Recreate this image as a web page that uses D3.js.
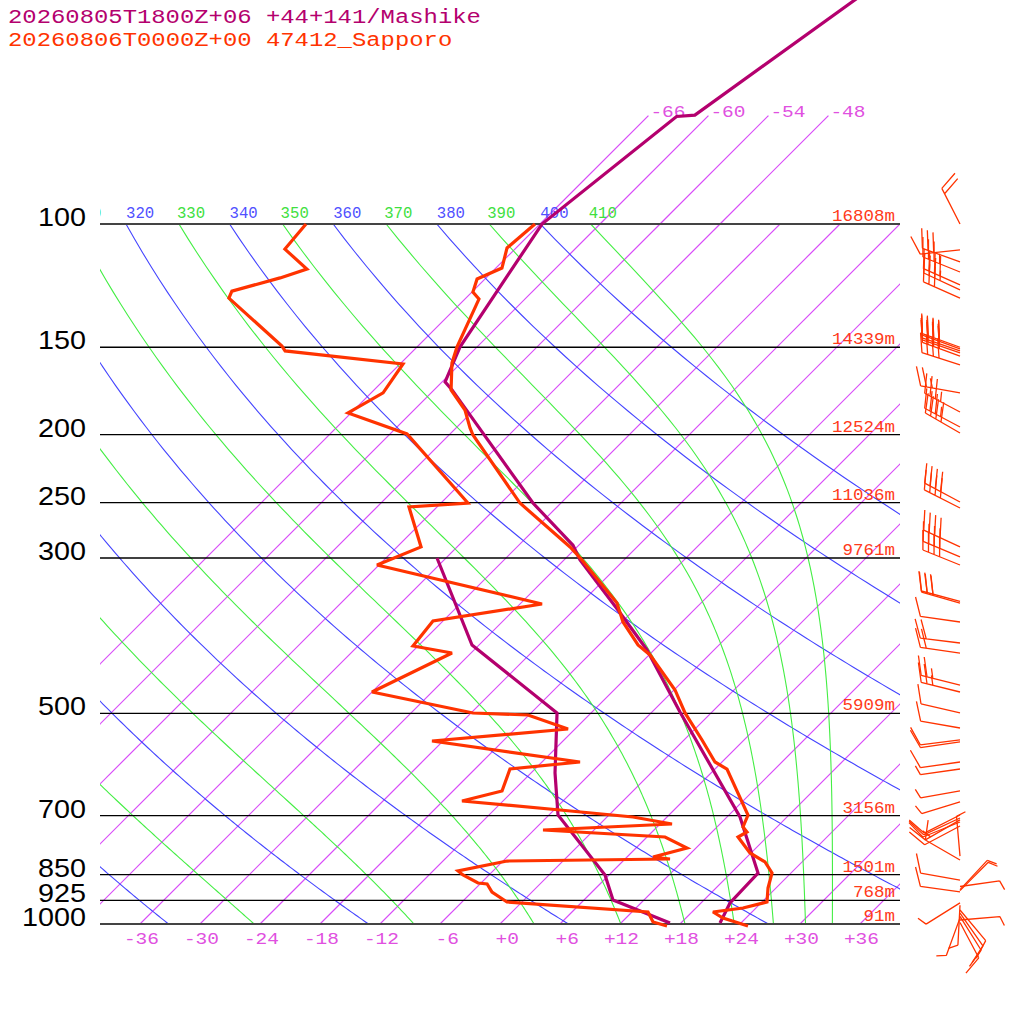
<!DOCTYPE html>
<html><head><meta charset="utf-8">
<script src="https://cdn.jsdelivr.net/npm/d3@7"></script>
<style>html,body{margin:0;padding:0;background:#fff}</style>
</head><body>
<svg id="chart" width="1024" height="1024"></svg>
<script>
// ---------------- data ----------------
const headerLines = ["20260805T1800Z+06 +44+141/Mashike", "20260806T0000Z+00 47412_Sapporo"];
const pressureLevels = [100,150,200,250,300,500,700,850,925,1000];
const heightLabels = ["16808m","14339m","12524m","11036m","9761m","5909m","3156m","1501m","768m","91m"];
const tempTicks = [-36,-30,-24,-18,-12,-6,0,6,12,18,24,30,36];
const isotherms = [-66,-60,-54,-48,-42,-36,-30,-24,-18,-12,-6,0,6,12,18,24,30,36];
const topIsotherms = [-66,-60,-54,-48];
const dryThetas = [240,260,280,300,320,340,360,380,400];
const moistThetas = [250,270,290,310,330,350,370,390,410];

// Sapporo (observed)
const sapTP = [1006.6,980.5,961.3,948.7,930.2,888.3,845.5,815.5,791.7,751.1,738.9,726.8,698.7,600.6,586.9,545.9,499.5,463.1,412.7,399.4,370.3,347.9,302.0,289.3,250.4,200.2,195.6,184.4,172.6,158.0,149.9,128.0,125.1,119.8,115.6,108.2,100];
const sapT  = [25.0,21.7,20.1,22.7,24.5,23.2,22.1,20.3,17.9,15.1,15.5,14.6,13.9,7.2,5.3,1.8,-2.6,-5.9,-11.9,-14.1,-17.9,-20.4,-28.2,-30.7,-40.1,-51.6,-52.6,-54.9,-58.3,-60.9,-62.0,-64.6,-65.9,-66.8,-65.4,-66.9,-66.5];
const sapTdP = [1006.6,993.4,961.3,930.2,900.1,876.4,873.8,851.1,840.0,812.9,807.5,802.2,778.8,751.1,734.0,719.7,703.3,687.3,667.2,645.6,600.6,586.9,547.7,526.5,502.8,499.5,466.2,410.1,400.7,369.1,349.0,307.0,289.3,253.7,250.4,199.5,186.2,174.3,158.5,151.8,149.4,127.6,124.7,119.4,116.0,108.6,100];
const sapTd  = [16.9,15.1,13.6,-1.5,-4.0,-5.3,-6.3,-8.6,-9.5,-5.6,10.5,8.6,11.1,7.8,-5.1,7.2,2.6,-5.4,-16.1,-13.1,-14.5,-8.2,-25.1,-12.7,-18.1,-23.8,-36.0,-31.9,-36.5,-37.0,-27.8,-48.2,-45.6,-50.8,-45.3,-58.3,-66.3,-64.8,-65.7,-78.8,-79.6,-89.7,-90.1,-86.6,-84.8,-89.0,-89.4];

// Mashike (model)
const mashTP = [996.7,933.2,845.5,703.3,497.9,406.0,356.0,302.0,287.5,250.4,172.6,168.1,149.9,100,70.2,69.9,45];
const mashT  = [21.9,20.9,20.7,13.3,-3.2,-12.7,-19.6,-28.4,-30.6,-38.8,-58.2,-59.7,-61.7,-65.8,-63.1,-61.4,-56.2];
const mashTdP = [996.7,924.1,851.1,698.7,608.5,499.5,399.4,300.0];
const mashTd  = [16.9,8.9,5.6,-5.1,-9.6,-15.4,-30.7,-42.9];

// Sapporo winds (pressure hPa, direction deg, speed kt)
const windP   = [100,108.9,113.3,117.1,122.2,124.2,127.6,150,150.8,151.8,152.8,154.4,159,174.3,185.6,195,198.9,249.5,254.5,289.3,299,307,346,348,370.3,396.8,410.1,455.6,466.2,499.5,524.8,545.9,549.5,586.9,600.6,645.6,669.4,698.7,705.6,710,715,724.4,800,810,865.3,884,893,896,900,933,940,955,965,975,980,987,995];
const windDir = [333,264,290,292,294,295,294,290,290,289,289,290,288,280,298,298,300,298,297,295,293,292,285,286,278,277,278,284,284,283,280,263,262,262,262,260,253,243,245,240,248,242,355,300,280,82,43,45,278,238,183,140,145,148,200,85,152];
const windSpd = [20,10,30,35,40,35,30,40,40,40,40,40,40,25,35,35,40,40,40,40,40,40,30,30,10,20,20,25,25,10,10,10,10,10,5,5,5,10,10,15,10,10,5,10,10,5,5,5,10,5,5,10,10,10,5,5,10];

// ---------------- colors ----------------
const C_MASH = "#b4006e", C_SAP = "#ff3300", C_ISOLINE = "#d84cf8", C_ISOLBL = "#e050e0";
const C_BLUE = "#4444ff", C_GREEN = "#44ee44";

// ---------------- scales ----------------
const svg = d3.select("#chart");
const yScale = d3.scaleLog().domain([1000,100]).range([924,224]);
const xScale = d3.scaleLinear().domain([-40,40]).range([100,900]);
const skewX = (T,p) => xScale(T) + (yScale(1000) - yScale(p));

const defs = svg.append("defs");
defs.append("clipPath").attr("id","plotClip").append("rect").attr("x",100).attr("y",224).attr("width",800).attr("height",700);
defs.append("clipPath").attr("id","lblClip").append("rect").attr("x",100).attr("y",0).attr("width",800).attr("height",1024);

const mono = "'Liberation Mono','DejaVu Sans Mono',monospace";
function monoText(g, str, x, y, size, adv, color, anchorEnd) {
  const w = str.length*adv;
  return g.append("text").attr("x", anchorEnd ? x - w : x).attr("y", y)
    .attr("font-family", mono).attr("font-size", size).style("fill", color)
    .attr("textLength", w).attr("lengthAdjust","spacingAndGlyphs").text(str);
}

const grid = svg.append("g").attr("clip-path","url(#plotClip)");
const lineGen = d3.line().x(d=>d[0]).y(d=>d[1]);

// isotherms (straight lines in skew-T space)
isotherms.forEach(T => {
  const pts = [[skewX(T,1000), yScale(1000)], [skewX(T,100), yScale(100)]];
  grid.append("path").attr("d", lineGen(pts))
    .style("fill","none").style("stroke", C_ISOLINE).style("stroke-width","1.2px");
});
// pressure samples
const pSamples = [];
for (let p=1000; p>=100; p-=5) pSamples.push(p);

// dry adiabats
dryThetas.forEach(th => {
  const pts = pSamples.map(p => [skewX(th*Math.pow(p/1000,0.2857)-273.15,p), yScale(p)]);
  grid.append("path").attr("d",lineGen(pts)).style("fill","none").style("stroke",C_BLUE).style("stroke-width","1.1px");
});
// moist (pseudo) adiabats, Bolton theta-e
function thetaE(TK,p){
  const Tc = TK-273.15;
  const e = 6.112*Math.exp(17.67*Tc/(Tc+243.5));
  if (e >= 0.8*p) return Infinity;
  const r = 622*e/(p-e);
  return TK*Math.pow(1000/p,0.2854*(1-0.00028*r))*Math.exp((3.376/TK-0.00254)*r*(1+0.00081*r));
}
function moistT(te,p){
  let lo=120, hi=340;
  for (let i=0;i<60;i++){ const m=(lo+hi)/2; if (thetaE(m,p)>te) hi=m; else lo=m; }
  return (lo+hi)/2-273.15;
}
moistThetas.forEach(te => {
  const pts = pSamples.map(p => [skewX(moistT(te,p),p), yScale(p)]);
  grid.append("path").attr("d",lineGen(pts)).style("fill","none").style("stroke",C_GREEN).style("stroke-width","1.1px");
});

// isotherm extension above 100 hPa
topIsotherms.forEach(T => {
  const pts = [[skewX(T,100), yScale(100)], [skewX(T,70), yScale(70)]];
  svg.append("path").attr("d", lineGen(pts))
    .style("fill","none").style("stroke", C_ISOLINE).style("stroke-width","1.2px");
  monoText(svg, String(T), skewX(T,70)+2, yScale(70)+1, 17, 11.7, C_ISOLBL, false);
});

// pressure lines
pressureLevels.forEach((p,i) => {
  const edge = (p===100||p===1000);
  svg.append("line").attr("x1",100).attr("x2",900).attr("y1",yScale(p)).attr("y2",yScale(p))
    .attr("stroke", edge ? "#444" : "#000").attr("stroke-width", edge ? 1.8 : 1.3);
  const s = String(p);
  svg.append("text").attr("x",86 - s.length*16).attr("y",yScale(p)+2)
    .attr("font-family","'Liberation Sans',Arial,sans-serif").attr("font-size",26).attr("fill","#000")
    .attr("textLength", s.length*16).attr("lengthAdjust","spacingAndGlyphs").text(s);
  monoText(svg, heightLabels[i], 895, yScale(p)-3, 17, 10.5, "#ff3a1a", true);
});

// adiabat labels at 100 hPa (only the characters inside the plot frame are shown)
const lbl = svg.append("g").attr("clip-path","url(#lblClip)");
function thetaLabel(val, x, color){
  const s = String(val), adv = 9.4;
  let k = 0;
  while (k < s.length && x + (k+1)*adv <= 100) k++;
  if (k >= s.length) return;
  monoText(lbl, s.slice(k), x + k*adv, 218, 16, adv, color, false);
}
dryThetas.forEach(th => thetaLabel(th, skewX(th*Math.pow(0.1,0.2857)-273.15,100), "#5050ff"));
moistThetas.forEach(te => thetaLabel(te, skewX(moistT(te,100),100)-2, "#40e040"));

// temperature axis labels
tempTicks.forEach(T => {
  const s = (T>=0?"+":"")+T;
  monoText(svg, s, xScale(T)+19, 944, 17, 11.7, C_ISOLBL, true);
});

// profiles
function profile(P, T, color){
  const pts = P.map((p,i)=>[skewX(T[i],p), yScale(p)]);
  svg.append("path").attr("d",lineGen(pts)).attr("fill","none").attr("stroke",color)
    .attr("stroke-width",3.2).attr("stroke-linejoin","miter").attr("stroke-miterlimit",3);
}
profile(mashTP, mashT, C_MASH);
profile(mashTdP, mashTd, C_MASH);
profile(sapTP, sapT, C_SAP);
profile(sapTdP, sapTd, C_SAP);

// wind barbs
const barbG = svg.append("g").attr("stroke",C_SAP).attr("stroke-width",1.3).attr("fill","none");
function barb(x0,y0,dir,spd){
  const L=40, rad=dir*Math.PI/180;
  const ux=Math.sin(rad), uy=-Math.cos(rad);
  const tx=x0+L*ux, ty=y0+L*uy;
  let d=`M${x0},${y0}L${tx},${ty}`;
  const a=Math.atan2(uy,ux)+68*Math.PI/180;
  const bx=Math.cos(a), by=Math.sin(a);
  let s=Math.round(spd/5)*5, pos=0; const step=6;
  const P=(q)=>[tx-q*ux, ty-q*uy];
  while(s>=50){ const p1=P(pos), p2=P(pos+step);
    d+=`M${p1[0]},${p1[1]}L${p1[0]+20*bx},${p1[1]+20*by}L${p2[0]},${p2[1]}`; pos+=step+2; s-=50; }
  while(s>=10){ const p1=P(pos); d+=`M${p1[0]},${p1[1]}L${p1[0]+20*bx},${p1[1]+20*by}`; pos+=step; s-=10; }
  if(s>=5){ const p1=P(pos); d+=`M${p1[0]},${p1[1]}L${p1[0]+10*bx},${p1[1]+10*by}`; }
  barbG.append("path").attr("d",d);
}
windP.forEach((p,i)=>barb(960, yScale(p), windDir[i], windSpd[i]));

// header
monoText(svg, headerLines[0], 8, 23, 20, 14.33, C_MASH, false);
monoText(svg, headerLines[1], 8, 46, 20, 14.33, C_SAP, false);
</script>
</body></html>
